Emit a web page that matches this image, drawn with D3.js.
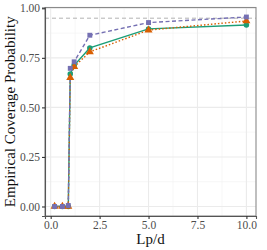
<!DOCTYPE html>
<html><head><meta charset="utf-8">
<script src="https://cdn.jsdelivr.net/npm/d3@7"></script>
<style>body{margin:0;background:#fff}svg{display:block}</style>
</head><body>
<script>
const xVals = [0.2, 0.6, 0.9, 1.0, 1.2, 2, 5, 10];
const greenVals = [0, 0, 0, 0.668, 0.712, 0.800, 0.896, 0.916];
const orangeVals = [0, 0, 0, 0.650, 0.705, 0.780, 0.890, 0.936];
const purpleVals = [0, 0, 0.005, 0.697, 0.730, 0.864, 0.928, 0.956];
const xTicks = [0, 2.5, 5, 7.5, 10];
const yTicks = [0, 0.25, 0.5, 0.75, 1];
const refLine = 0.95;

const W = 267, H = 250;
const m = {l: 45, r: 11, t: 7.5, b: 34};
const svg = d3.select("body").append("svg").attr("width", W).attr("height", H);
const x = d3.scaleLinear().domain([-0.29, 10.49]).range([m.l, W - m.r]);
const y = d3.scaleLinear().domain([-0.048, 1.004]).range([H - m.b, m.t]);

const g = svg.append("g");
const xMinor = [1.25, 3.75, 6.25, 8.75];
const yMinor = [0.125, 0.375, 0.625, 0.875];
g.selectAll(".xm").data(xMinor).enter().append("line")
  .attr("x1", d => x(d)).attr("x2", d => x(d)).attr("y1", m.t).attr("y2", H - m.b)
  .attr("stroke", "#f2f2f2").attr("stroke-width", 0.6);
g.selectAll(".ym").data(yMinor).enter().append("line")
  .attr("y1", d => y(d)).attr("y2", d => y(d)).attr("x1", m.l).attr("x2", W - m.r)
  .attr("stroke", "#f2f2f2").attr("stroke-width", 0.6);
g.selectAll(".xM").data(xTicks).enter().append("line")
  .attr("x1", d => x(d)).attr("x2", d => x(d)).attr("y1", m.t).attr("y2", H - m.b)
  .attr("stroke", "#ebebeb").attr("stroke-width", 1.1);
g.selectAll(".yM").data(yTicks).enter().append("line")
  .attr("y1", d => y(d)).attr("y2", d => y(d)).attr("x1", m.l).attr("x2", W - m.r)
  .attr("stroke", "#ebebeb").attr("stroke-width", 1.1);

svg.append("line").attr("x1", m.l).attr("x2", W - m.r).attr("y1", y(refLine)).attr("y2", y(refLine))
  .attr("stroke", "#b3b3b3").attr("stroke-width", 1).attr("stroke-dasharray", "4,3");

const series = [
  {vals: greenVals, color: "#1B9E77", dash: null, shape: d3.symbolCircle},
  {vals: orangeVals, color: "#D95F02", dash: "1.5,2", shape: d3.symbolTriangle},
  {vals: purpleVals, color: "#7570B3", dash: "4,2.5", shape: d3.symbolSquare}
];
const line = d3.line().x(d => x(d[0])).y(d => y(d[1]));
series.forEach(s => {
  const pts = xVals.map((v, i) => [v, s.vals[i]]);
  svg.append("path").datum(pts).attr("d", line).attr("fill", "none")
    .attr("stroke", s.color).attr("stroke-width", 1.4)
    .attr("stroke-dasharray", s.dash);
});
series.forEach(s => {
  const pts = xVals.map((v, i) => [v, s.vals[i]]);
  svg.selectAll(null).data(pts).enter().append("path")
    .attr("d", d3.symbol().type(s.shape).size(s.shape === d3.symbolTriangle ? 28 : 24))
    .attr("transform", d => `translate(${x(d[0])},${y(d[1])})`)
    .attr("fill", s.color);
});

svg.append("rect").attr("x", m.l).attr("y", m.t).attr("width", W - m.r - m.l).attr("height", H - m.b - m.t)
  .attr("fill", "none").attr("stroke", "#8a8a8a").attr("stroke-width", 1.1);

const xAxis = svg.append("g").attr("transform", `translate(0,${H - m.b})`)
  .call(d3.axisBottom(x).tickValues(xTicks).tickFormat(d3.format(".1f")).tickSize(3).tickPadding(2));
const yAxis = svg.append("g").attr("transform", `translate(${m.l},0)`)
  .call(d3.axisLeft(y).tickValues(yTicks).tickFormat(d3.format(".2f")).tickSize(3).tickPadding(2));
[xAxis, yAxis].forEach(a => {
  a.select(".domain").attr("stroke", "#555").attr("stroke-width", 1.1);
  a.selectAll(".tick line").attr("stroke", "#333").attr("stroke-width", 1.1);
  a.selectAll("text").attr("font-family", "Liberation Serif").attr("font-size", 11.5).attr("fill", "#4d4d4d");
});

svg.append("text").attr("x", (m.l + W - m.r) / 2).attr("y", 244)
  .attr("text-anchor", "middle").attr("font-family", "Liberation Serif").attr("font-size", 15)
  .attr("fill", "#111").text("Lp/d");
svg.append("text").attr("transform", `translate(15,${(m.t + H - m.b) / 2}) rotate(-90)`)
  .attr("text-anchor", "middle").attr("font-family", "Liberation Serif").attr("font-size", 15)
  .attr("fill", "#111").text("Empirical Coverage Probability");
</script>
</body></html>
